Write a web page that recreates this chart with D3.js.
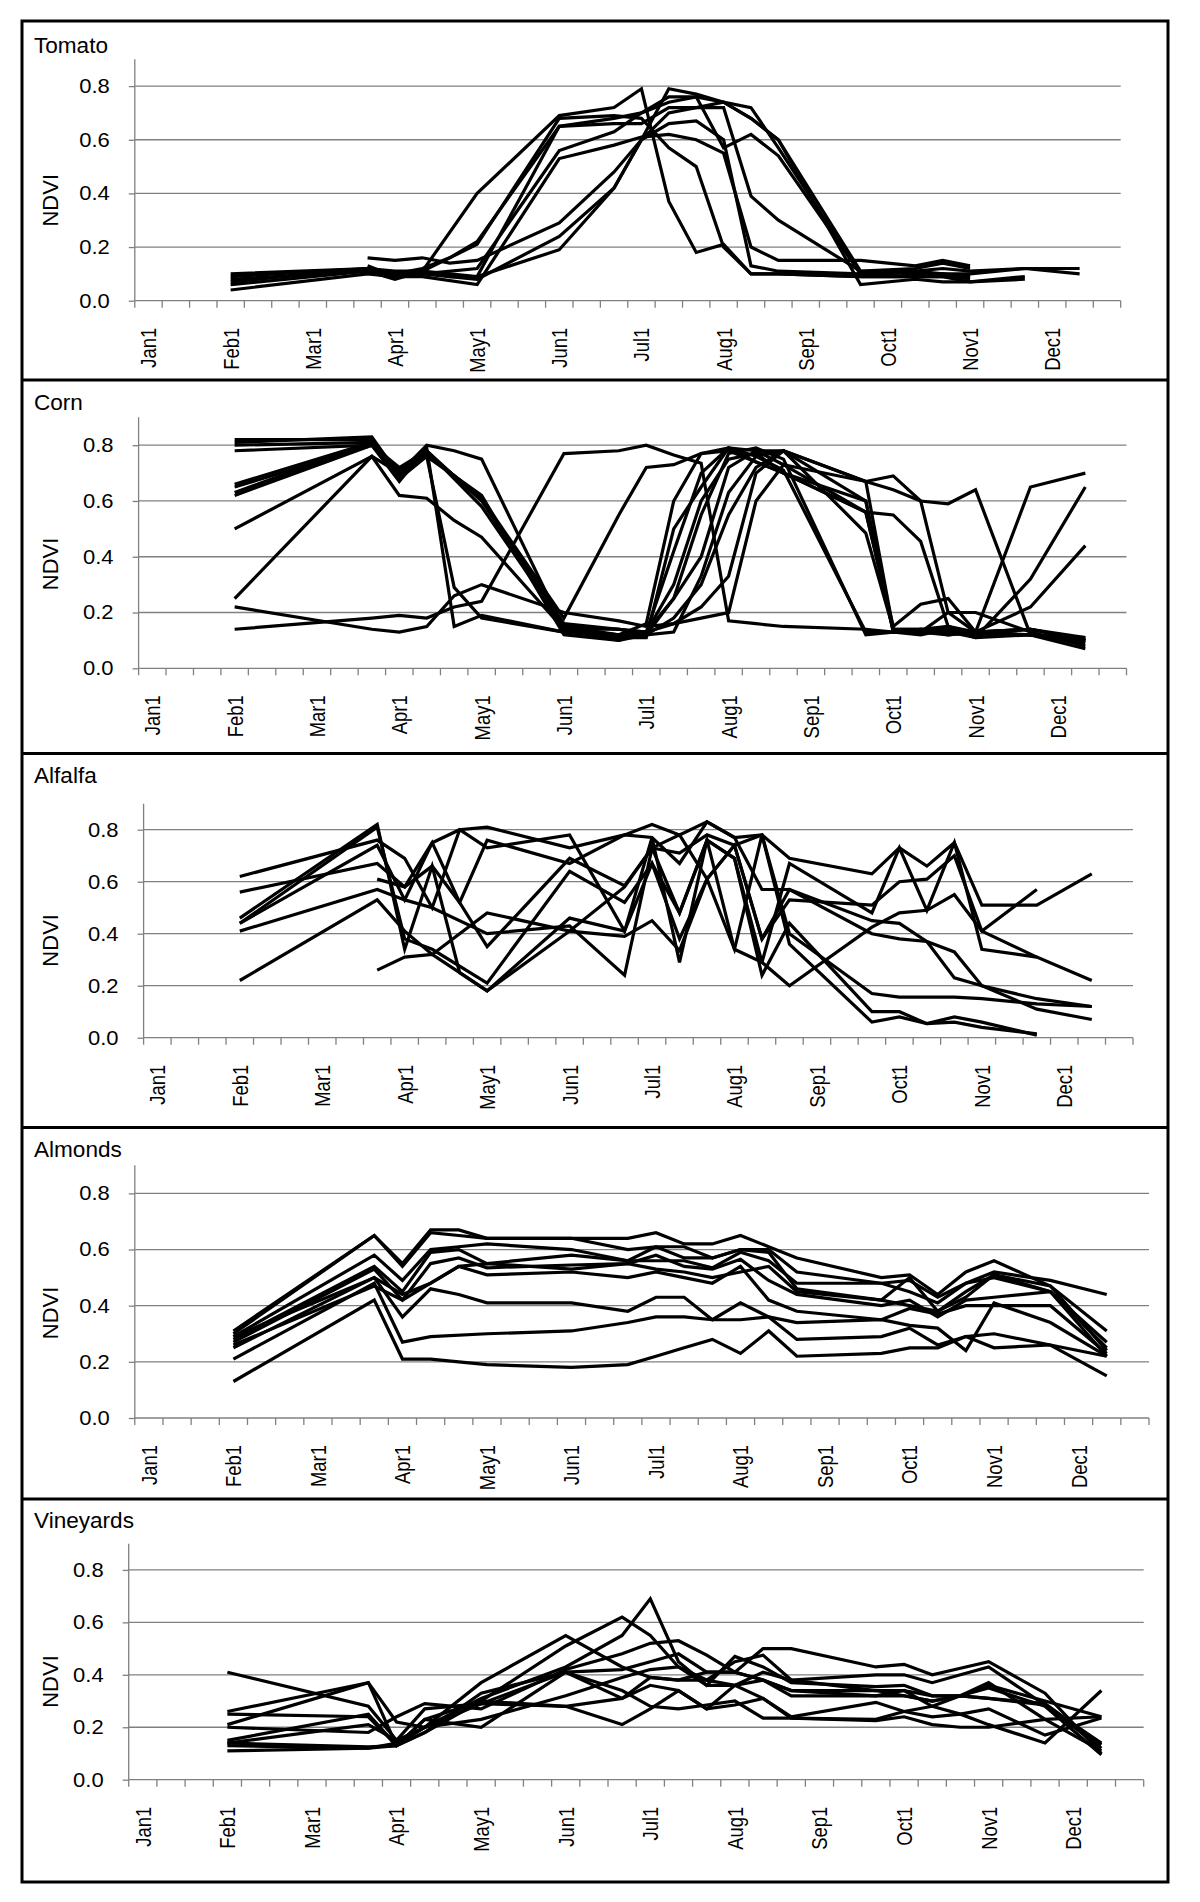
<!DOCTYPE html>
<html><head><meta charset="utf-8">
<script src="https://cdn.jsdelivr.net/npm/d3@7"></script>
<style>
body{margin:0;background:#fff;}
svg{display:block;font-family:"Liberation Sans",Arial,sans-serif;}
</style></head><body>
<svg id="chart" width="1200" height="1902"></svg>
<script>
// ---- categories (dekads of the year) ----
const categories = ["Jan1","","","Feb1","","","Mar1","","","Apr1","","","May1","","","Jun1","","",
  "Jul1","","","Aug1","","","Sep1","","","Oct1","","","Nov1","","","Dec1","",""];
const labelledCategories = [0,3,6,9,12,15,18,21,24,27,30,33];
const yTicks = [0, 0.2, 0.4, 0.6, 0.8];
const yMax = 0.9;

// ---- Tomato ----
const tomatoDates = [3, 8, 9, 10, 11, 12, 15, 17, 18, 19, 20, 21, 22, 23, 26, 28, 29, 30, 32, 34];
const tomatoSeries = [
  [0.10,0.12,0.11,0.11,null,0.40,0.69,0.72,0.79,0.37,0.18,0.21,0.10,0.10,0.09,null,null,0.09,null,null],
  [0.09,0.12,0.10,0.12,0.16,0.22,0.65,0.68,0.70,0.74,0.76,0.74,0.68,0.60,0.11,0.12,0.14,0.12,null,null],
  [0.08,0.11,0.08,0.11,null,0.21,0.68,0.69,0.68,0.57,0.50,0.20,0.10,0.10,0.09,0.09,0.10,0.10,0.12,0.12],
  [0.07,0.12,0.10,0.11,0.09,0.09,0.65,0.66,0.66,0.72,0.72,0.72,0.39,0.30,0.11,0.10,0.10,0.09,null,null],
  [0.06,0.11,0.09,0.10,null,0.12,0.56,0.63,0.70,0.76,0.76,0.57,0.62,0.54,0.10,0.11,0.12,0.11,0.12,0.10],
  [0.04,0.10,0.09,0.09,null,0.06,0.53,0.58,0.61,0.62,0.60,0.55,0.20,0.15,0.15,0.13,0.15,0.13,null,null],
  [null,0.16,0.15,0.16,0.14,0.15,0.29,0.48,0.60,0.70,0.72,0.74,0.72,0.57,0.10,0.09,0.09,0.07,0.08,null],
  [null,0.13,0.09,0.10,null,0.08,0.24,0.42,0.60,0.79,0.77,0.74,0.68,0.60,0.06,0.08,0.07,0.07,0.09,null],
  [null,0.12,0.10,0.11,0.10,0.09,0.19,0.42,0.60,0.66,0.67,0.60,0.13,0.11,0.10,0.11,0.10,0.08,null,null]
];

// ---- Corn ----
const cornDates = [3, 8, 9, 10, 11, 12, 15, 17, 18, 19, 20, 21, 22, 23, 26, 27, 28, 29, 30, 32, 34];
const cornSeries = [
  [0.14,0.18,0.19,0.18,0.22,0.24,0.77,0.78,0.80,0.765,0.735,0.17,0.16,0.15,0.14,0.13,0.14,0.15,0.13,0.12,0.10],
  [0.22,0.14,0.13,0.15,0.26,0.30,0.20,0.17,0.15,0.16,0.18,0.20,0.60,0.73,0.67,0.69,0.60,0.59,0.64,0.12,0.11],
  [0.82,0.82,0.70,0.80,0.78,0.75,0.14,0.14,0.12,0.25,0.55,0.77,0.79,0.75,0.12,0.13,0.13,0.12,0.13,0.14,0.10],
  [0.81,0.83,0.69,0.77,null,0.61,0.15,0.14,0.13,0.42,0.70,0.79,0.78,0.73,0.56,0.55,0.455,0.15,0.12,0.12,0.09],
  [0.80,0.81,0.70,0.76,0.29,0.18,0.13,0.11,0.11,0.50,0.65,0.79,0.76,0.71,0.13,0.13,0.13,0.15,0.12,0.14,0.10],
  [0.78,0.80,0.67,0.79,0.15,0.19,0.13,0.12,0.12,0.13,0.33,0.63,0.76,0.78,0.67,0.14,0.14,0.13,0.13,0.14,0.11],
  [0.66,0.81,0.71,0.78,null,0.58,0.15,0.12,0.16,0.60,0.77,0.78,0.74,0.70,0.56,0.15,0.23,0.25,0.13,0.65,0.70],
  [0.65,0.80,0.69,0.77,null,0.61,0.14,0.10,0.13,0.25,0.40,0.72,0.78,0.78,0.60,0.13,0.14,0.13,0.11,0.32,0.65],
  [0.63,0.81,0.68,0.76,null,0.62,0.12,0.10,0.12,0.18,0.30,0.55,0.72,0.78,0.485,0.14,0.14,0.12,0.13,0.22,0.44],
  [0.62,0.80,0.72,0.78,null,0.60,0.16,0.14,0.13,0.16,0.22,0.33,0.70,0.78,0.67,0.64,0.60,0.20,0.20,0.13,0.08],
  [0.50,0.76,0.62,0.61,0.53,0.47,0.14,0.12,0.13,0.30,0.60,0.75,0.77,0.70,0.56,0.14,0.13,0.20,0.13,0.14,0.10],
  [0.25,0.76,0.70,0.77,null,0.61,0.18,0.55,0.72,0.73,0.77,0.79,0.74,0.70,0.60,0.13,0.12,0.14,0.11,0.12,0.07]
];

// ---- Alfalfa ----
const alfalfaDates = [3, 8, 9, 10, 11, 12, 15, 17, 18, 19, 20, 21, 22, 23, 26, 27, 28, 29, 30, 32, 34];
const alfalfaSeries = [
  [0.62,0.76,0.69,0.50,0.80,0.81,0.73,0.78,0.82,0.78,0.83,0.77,0.78,0.69,0.63,0.73,0.66,0.75,0.51,0.51,0.63],
  [0.56,0.67,0.58,0.75,0.52,0.35,0.69,0.585,0.73,0.71,0.78,0.74,0.38,0.53,0.51,0.60,0.61,0.70,0.41,0.31,null],
  [0.46,0.82,0.34,0.66,0.25,0.18,0.46,0.41,0.77,0.29,0.76,0.69,0.24,0.44,0.10,0.10,0.054,0.06,0.04,0.015,null],
  [0.44,0.81,0.38,0.34,null,0.21,0.64,0.52,0.67,0.38,0.61,0.34,0.78,0.36,0.06,0.08,0.054,0.08,0.06,0.01,null],
  [0.41,0.57,0.53,0.50,null,0.40,0.43,0.24,0.73,0.48,0.76,0.69,0.29,0.20,0.425,0.48,0.49,0.55,0.41,0.57,null],
  [0.22,0.53,0.41,0.32,null,0.48,0.41,0.39,0.45,0.335,0.61,0.74,0.38,0.57,0.45,0.44,0.37,0.33,0.20,0.11,0.07],
  [null,0.61,0.58,0.66,0.52,0.76,0.67,0.78,0.77,0.67,0.83,0.77,0.57,0.57,0.40,0.38,0.37,0.23,0.20,0.15,0.12],
  [null,0.26,0.31,0.32,0.25,0.18,0.41,0.58,0.73,0.78,0.61,0.74,0.78,0.40,0.17,0.156,0.156,0.156,0.15,0.13,0.12],
  [0.44,0.74,0.53,0.75,0.80,0.73,0.78,0.41,0.67,0.48,0.76,0.34,0.29,0.67,0.48,0.73,0.49,0.75,0.34,0.31,0.22]
];

// ---- Almonds ----
const almondDates = [3, 8, 9, 10, 11, 12, 15, 17, 18, 19, 20, 21, 22, 23, 26, 27, 28, 29, 30, 32, 34];
const almondSeries = [
  [0.31,0.65,0.55,0.67,0.67,0.64,0.64,0.64,0.66,0.62,0.62,0.65,0.61,0.57,0.50,0.51,0.44,0.52,0.56,0.47,0.31],
  [0.30,0.65,0.54,0.66,0.65,0.64,0.64,0.60,0.61,0.61,0.57,0.60,0.60,0.52,0.48,0.49,0.43,0.48,0.52,0.49,0.44],
  [0.29,0.58,0.49,0.60,0.61,0.62,0.60,0.56,0.56,0.56,0.535,0.59,0.56,0.48,0.48,0.45,0.41,0.48,0.50,0.45,0.27],
  [0.28,0.54,0.45,0.59,0.60,0.55,0.58,0.56,0.61,0.57,0.57,0.60,0.59,0.46,0.42,0.40,0.38,0.45,0.51,0.45,0.25],
  [0.27,0.53,0.42,0.55,0.57,0.535,0.545,0.55,0.58,0.54,0.53,0.565,0.49,0.44,0.40,0.42,0.36,0.42,0.43,0.45,0.22],
  [0.25,0.50,0.44,0.48,0.54,0.51,0.52,0.50,0.52,0.50,0.48,0.54,0.42,0.38,0.35,0.39,0.37,0.40,0.40,0.40,0.23],
  [0.29,0.50,0.36,0.46,0.44,0.41,0.41,0.38,0.43,0.43,0.35,0.41,0.36,0.34,0.35,0.33,0.32,0.24,0.41,0.34,0.22],
  [0.21,0.48,0.27,0.29,null,0.30,0.31,0.34,0.36,0.36,0.35,0.35,0.36,0.28,0.29,0.32,0.26,0.29,0.30,0.26,0.22],
  [0.13,0.42,0.21,0.21,null,0.19,0.18,0.19,0.22,0.25,0.28,0.23,0.31,0.22,0.23,0.25,0.25,0.29,0.25,0.26,0.15],
  [0.26,0.47,0.42,0.48,0.54,0.55,0.53,0.55,0.53,0.52,0.50,0.52,0.54,0.45,0.42,0.50,0.38,0.43,0.51,0.47,0.24]
];

// ---- Vineyards ----
const vineyardDates = [3, 8, 9, 10, 12, 15, 17, 18, 19, 20, 21, 22, 23, 26, 27, 28, 29, 30, 32, 34];
const vineyardSeries = [
  [0.41,0.28,0.15,0.27,0.29,0.28,0.21,0.27,0.34,0.27,0.36,0.41,0.38,0.34,0.34,0.32,0.32,0.36,0.30,0.24],
  [0.26,0.37,0.22,0.20,0.37,0.55,0.43,0.39,0.38,0.41,0.41,0.50,0.50,0.43,0.44,0.40,0.425,0.45,0.33,0.10],
  [0.25,0.24,0.13,0.23,0.30,0.51,0.62,0.55,0.43,0.38,0.45,0.475,0.38,0.40,0.40,0.37,0.40,0.43,0.285,0.12],
  [0.21,0.37,0.13,0.20,0.31,0.43,0.55,0.69,0.45,0.36,0.47,0.43,0.37,0.355,0.36,0.32,0.32,0.37,0.23,0.11],
  [0.20,0.18,0.24,0.29,0.27,0.42,0.48,0.52,0.53,0.475,0.41,0.38,0.34,0.34,0.32,0.30,0.32,0.35,0.28,0.095],
  [0.15,0.25,0.13,0.18,0.33,0.41,0.42,0.45,0.48,0.41,0.41,0.38,0.32,0.32,0.34,0.28,0.32,0.31,0.285,0.14],
  [0.14,0.21,0.15,0.20,0.23,0.32,0.39,0.42,0.43,0.36,0.36,0.31,0.24,0.295,0.26,0.24,0.25,0.27,0.17,0.235],
  [0.14,0.125,0.13,0.23,0.20,0.41,0.34,0.28,0.27,0.285,0.30,0.235,0.235,0.225,0.24,0.21,0.20,0.20,0.23,0.24],
  [0.13,0.12,0.13,0.18,0.30,0.28,0.31,0.36,0.34,0.27,0.285,0.31,0.235,0.23,0.26,0.28,0.25,0.21,0.14,0.34],
  [0.11,0.12,0.14,0.20,0.29,0.41,0.31,0.39,0.38,0.38,0.36,0.38,0.34,0.32,0.32,0.30,0.32,0.31,0.29,0.133]
];

// ---- layout ----
const panels = [
  {title:"Tomato",    dates:tomatoDates,   series:tomatoSeries,   x0:134.8, x1:1120.7, yTop:59.3,   yZero:300.7,  titleY:53},
  {title:"Corn",      dates:cornDates,     series:cornSeries,     x0:138.6, x1:1126.5, yTop:417.3,  yZero:668.3,  titleY:410},
  {title:"Alfalfa",   dates:alfalfaDates,  series:alfalfaSeries,  x0:143.6, x1:1133,   yTop:803.7,  yZero:1037.7, titleY:783},
  {title:"Almonds",   dates:almondDates,   series:almondSeries,   x0:134.8, x1:1149,   yTop:1165.3, yZero:1418,   titleY:1157},
  {title:"Vineyards", dates:vineyardDates, series:vineyardSeries, x0:128.7, x1:1143.7, yTop:1543.7, yZero:1779.7, titleY:1528}
];
const separators = [380, 753.5, 1127.5, 1499];

const svg = d3.select("#chart");
svg.append("rect").attr("width",1200).attr("height",1902).attr("fill","#fff");

const gridColor = "#808080";
const fontFam = '"Liberation Sans",Arial,sans-serif';
const yLabelStretch = 1.1;   // glyphs in the source are slightly wide
const xLabelSquash = 0.84;   // rotated labels are slightly compressed along their length

panels.forEach(p => {
  const x = d3.scaleBand().domain(d3.range(categories.length)).range([p.x0, p.x1]).padding(0);
  const y = d3.scaleLinear().domain([0, yMax]).range([p.yZero, p.yTop]);
  const g = svg.append("g");

  // horizontal gridlines
  g.selectAll("line.grid").data(yTicks).join("line")
    .attr("x1", p.x0).attr("x2", p.x1)
    .attr("y1", d => y(d)).attr("y2", d => y(d))
    .attr("stroke", gridColor).attr("stroke-width", 1.3);

  // y axis
  const yAxis = d3.axisLeft(y).tickValues(yTicks).tickFormat(d3.format(".1f")).tickSize(6).tickPadding(19);
  const ya = g.append("g").attr("transform", `translate(${p.x0},0)`).call(yAxis);
  ya.select(".domain").remove();
  ya.selectAll(".tick line").attr("stroke", gridColor).attr("stroke-width", 1.3);
  ya.selectAll(".tick text").attr("fill", "#000").style("font-size", "20px")
    .style("font-family", fontFam)
    .attr("x", -25 / yLabelStretch)
    .attr("transform", `scale(${yLabelStretch},1)`);

  // y axis line
  g.append("line").attr("x1", p.x0).attr("x2", p.x0).attr("y1", y(0)).attr("y2", y(yMax))
    .attr("stroke", gridColor).attr("stroke-width", 1.3);

  // category boundary tick marks
  const bounds = d3.range(categories.length + 1).map(i => i < categories.length ? x(i) : x.range()[1]);
  g.selectAll("line.xt").data(bounds).join("line")
    .attr("x1", d => d).attr("x2", d => d)
    .attr("y1", y(0)).attr("y2", y(0) + 7)
    .attr("stroke", gridColor).attr("stroke-width", 1.3);

  // x labels
  const xAxis = d3.axisBottom(x).tickValues(labelledCategories).tickFormat(i => categories[i]).tickSize(0);
  const xa = g.append("g").attr("transform", `translate(0,${y(0)})`).call(xAxis);
  xa.select(".domain").remove();
  xa.selectAll(".tick text")
    .attr("y", 0).attr("x", -27 / xLabelSquash).attr("dy", "0.36em")
    .attr("transform", `rotate(-90) scale(${xLabelSquash},1)`)
    .style("text-anchor", "end").style("font-size", "22px").attr("fill", "#000")
    .style("font-family", fontFam);

  // series lines
  const line = d3.line().x(d => x(d[0]) + x.bandwidth() / 2).y(d => y(d[1]));
  p.series.forEach(s => {
    const pts = p.dates.map((c, i) => [c, s[i]]).filter(d => d[1] != null);
    g.append("path").attr("d", line(pts))
      .attr("fill", "none").attr("stroke", "#000").attr("stroke-width", 3.2)
      .attr("stroke-linejoin", "miter").attr("stroke-miterlimit", 4).attr("stroke-linecap", "butt");
  });

  // title
  g.append("text").attr("transform", `translate(34,${p.titleY}) scale(1.05,1)`).text(p.title)
    .style("font-size", "21.5px").attr("fill", "#000");

  // NDVI label
  const cy = p.yZero - 0.416 * (p.yZero - p.yTop);
  g.append("text").attr("transform", `translate(50.5,${cy}) rotate(-90)`)
    .attr("text-anchor", "middle").attr("dy", "0.36em").text("NDVI")
    .style("font-size", "22px").attr("fill", "#000");
});

// panel frames
svg.append("rect").attr("x", 22).attr("y", 21).attr("width", 1146).attr("height", 1861)
  .attr("fill", "none").attr("stroke", "#000").attr("stroke-width", 3);
svg.selectAll("line.sep").data(separators).join("line")
  .attr("x1", 22).attr("x2", 1168).attr("y1", d => d).attr("y2", d => d)
  .attr("stroke", "#000").attr("stroke-width", 3);
</script>
</body></html>
